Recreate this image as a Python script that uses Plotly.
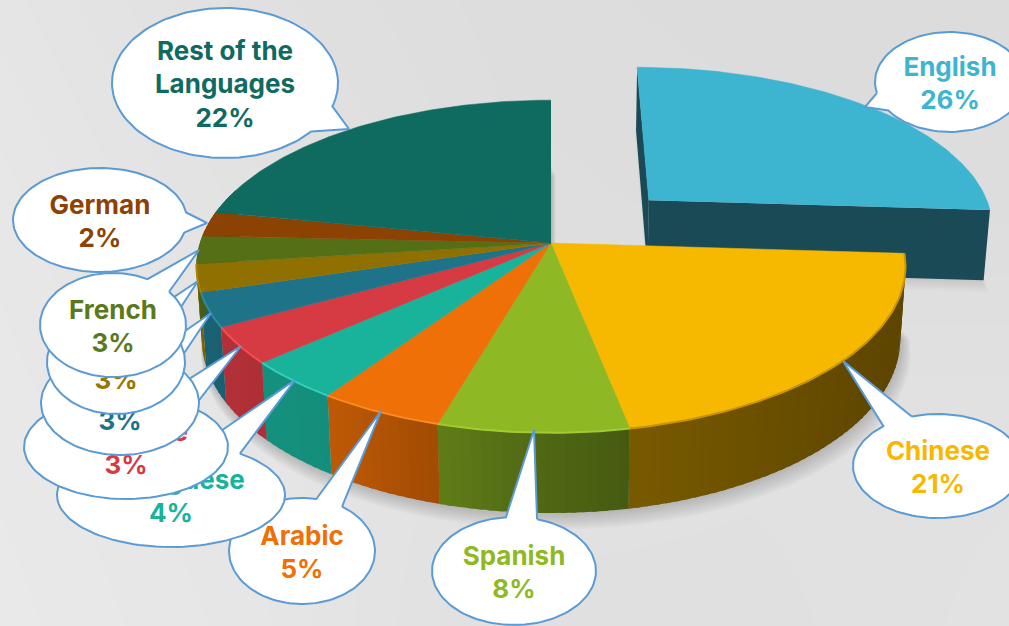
import numpy as np
import plotly.graph_objects as go

# ---------- data ----------
languages = ["English", "Chinese", "Spanish", "Arabic", "Portuguese", "Japanese",
             "Malay", "Russian", "French", "German", "Rest of the<br>Languages"]
share_labels = [26, 21, 8, 5, 4, 3, 3, 3, 3, 2, 22]
shares = [26, 20.9, 7.6, 5, 3.9, 3.6, 3.3, 2.7, 2.7, 2.4, 21.9]
exploded = [0.397, 0, 0, 0, 0, 0, 0, 0, 0, 0, 0]
slice_colors = ["#3DB5D0", "#F7B800", "#8EB925", "#EE7007", "#19B29B", "#D63A42",
                "#1F7388", "#8F7000", "#556F16", "#8B4202", "#0F6B5F"]
label_colors = ["#3DB5D0", "#F7B800", "#8EB925", "#EE7007", "#19B29B", "#D63A42",
                "#1F7388", "#9A7600", "#5A7A1A", "#8B4202", "#0F6B5F"]
rim_light = ["#3DB5D0", "#C79500", "#A4CC30", "#F98C25", "#35CDBB", "#F24E50",
             "#2A8CA3", "#A68300", "#556F16", "#8B4202", "#0F6B5F"]
# bubble: centre x, centre y, half width, half height, pointer x, pointer y
bubble_cx = [950, 938, 514, 302, 171, 126, 120, 116, 113, 100, 225]
bubble_cy = [82, 466, 571, 551, 495, 447, 403, 362, 325, 220, 83]
bubble_a = [75, 85, 82, 73, 114, 102, 79, 69, 73, 87, 113]
bubble_b = [50, 52, 54, 53, 52, 52, 52, 52, 52, 52, 75]
tip_x = [865, 843, 534, 381, 295, 241, 211, 198, 199, 207, 349]
tip_y = [107, 361, 430, 411, 380, 346, 313, 281, 250, 223, 129]

bg_x = [0, 250, 500, 750, 1009]
bg_y = [0, 200, 400, 626]
bg_z = [[229, 224, 221, 220, 220],
        [231, 226, 222, 221, 221],
        [232, 229, 226, 225, 225],
        [233, 230, 224, 224, 226]]

# ---------- projection ----------
CX, CY, A, B, K = 551, 243, 351, 163, 0.141
H, M = 73, 0.015
def proj(u, v, low=False):
    u, v = np.asarray(u, float), np.asarray(v, float)
    w = 1 + K * v + (M if low else 0)
    return CX + A * u / w, CY - (B * v - (H if low else 0)) / w

cum = np.cumsum([0] + shares) / sum(shares) * 2 * np.pi
fig = go.Figure()
fig.add_trace(go.Heatmap(x=bg_x, y=bg_y, z=bg_z, zmin=0, zmax=255, zsmooth="best", showscale=False,
                         colorscale=[[0, "#000000"], [1, "#ffffff"]], hoverinfo="skip"))

def poly(xs, ys, color, line=None, width=0, opacity=None):
    fig.add_trace(go.Scatter(x=list(xs), y=list(ys), mode="lines", fill="toself", fillcolor=color,
                             line=dict(color=line or "rgba(0,0,0,0)", width=width),
                             hoverinfo="skip", showlegend=False, opacity=opacity))

def arc(t0, t1, du=0, dv=0, n=None):
    n = n or max(int(np.degrees(t1 - t0) / 1.0), 2)
    t = np.linspace(t0, t1, n)
    return np.sin(t) + du, np.cos(t) + dv

def shade(x):
    return np.interp(x, [200, 260, 330, 440, 530, 630, 900], [.85, .82, .80, .67, .57, .49, .38])

def mix(hexc, f):
    r, g, b = int(hexc[1:3], 16), int(hexc[3:5], 16), int(hexc[5:7], 16)
    return f"rgb({int(r*f)},{int(g*f)},{int(b*f)})"

# soft shadow
for i in range(8, 0, -1):
    u, v = arc(cum[1], cum[-1])
    u = np.r_[0, u]; v = np.r_[0, v]
    x, y = proj(u * (1 + .002 * i), v * (1 + .002 * i), low=True)
    poly(x + i * .6, y + i * 1.6, "rgba(0,0,0,0.022)")
    u, v = arc(0, cum[1])
    d = exploded[0]; m = (cum[0] + cum[1]) / 2
    u = np.r_[np.sin(m) * d, u + np.sin(m) * d]; v = np.r_[np.cos(m) * d, v + np.cos(m) * d]
    x, y = proj(u, v, low=True)
    poly(x + i * 1.0 - 3, y + i * 1.5, "rgba(0,0,0,0.012)")

# exploded slice walls and faces
for k in np.nonzero(exploded)[0]:
    m = (cum[k] + cum[k + 1]) / 2
    du, dv = np.sin(m) * exploded[k], np.cos(m) * exploded[k]
    u, v = arc(cum[k], cum[k + 1], du, dv)
    wall = "#1A4A56"
    for uu, vv in ((np.array([du, u[0]]), np.array([dv, v[0]])), (np.array([du, u[-1]]), np.array([dv, v[-1]]))):
        xt, yt = proj(uu, vv); xb, yb = proj(uu, vv, low=True)
        poly(np.r_[xt, xb[::-1]], np.r_[yt, yb[::-1]], wall)

# rim strips of the remaining slices
step = np.radians(1.5)
for k in range(len(shares)):
    if exploded[k]:
        continue
    t0, t1 = cum[k], min(cum[k + 1], np.radians(290))
    if t1 <= t0:
        continue
    t = t0
    while t < t1 - 1e-6:
        e = min(t + step * 1.5, t1)
        u, v = arc(t, e, n=4)
        xt, yt = proj(u, v); xb, yb = proj(u, v, low=True)
        poly(np.r_[xt, xb[::-1]], np.r_[yt, yb[::-1]], mix(slice_colors[k], float(shade(xt.mean()))))
        t += step

# top faces
for k in range(len(shares)):
    m = (cum[k] + cum[k + 1]) / 2
    du, dv = np.sin(m) * exploded[k], np.cos(m) * exploded[k]
    u, v = arc(cum[k], cum[k + 1], du, dv)
    x, y = proj(np.r_[du, u], np.r_[dv, v])
    poly(x, y, slice_colors[k], line=slice_colors[k], width=0.5)

# rim highlights
for k in range(1, 8):
    u, v = arc(cum[k], cum[k + 1])
    x, y = proj(u, v)
    fig.add_trace(go.Scatter(x=x, y=y, mode="lines", line=dict(color=rim_light[k], width=2),
                             hoverinfo="skip", showlegend=False))

# callouts
for k in range(len(shares)):
    cx, cy, a, b, tx, ty = bubble_cx[k], bubble_cy[k], bubble_a[k], bubble_b[k], tip_x[k], tip_y[k]
    th = np.arctan2((ty - cy) / b, (tx - cx) / a)
    d = np.radians(11)
    p = np.linspace(th + d, th + 2 * np.pi - d, 120)
    xs = np.r_[cx + a * np.cos(p), tx, cx + a * np.cos(p[0])]
    ys = np.r_[cy + b * np.sin(p), ty, cy + b * np.sin(p[0])]
    poly(xs, ys, "#FFFFFF", line="#5B9BD5", width=2)
    fig.add_trace(go.Scatter(x=[cx], y=[cy + 4], mode="text", text=[f"{languages[k]}<br>{share_labels[k]}%"],
                             textposition="middle center",
                             textfont=dict(family="Inter", size=26, color=label_colors[k], weight=700),
                             hoverinfo="skip", showlegend=False))

fig.update_layout(width=1009, height=626, margin=dict(l=0, r=0, t=0, b=0), showlegend=False,
                  paper_bgcolor="#E2E2E2", plot_bgcolor="#E2E2E2",
                  xaxis=dict(range=[0, 1009], visible=False, fixedrange=True),
                  yaxis=dict(range=[626, 0], visible=False, fixedrange=True))
fig.write_html("out.html", config={"displayModeBar": False},
               post_script="document.body.style.margin='0';document.documentElement.style.overflow='hidden';")
